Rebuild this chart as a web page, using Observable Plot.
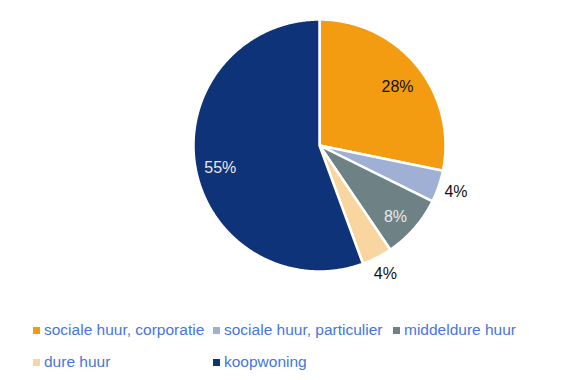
<!DOCTYPE html>
<html>
<head>
<meta charset="utf-8">
<script src="https://cdn.jsdelivr.net/npm/d3@7"></script>
<script src="https://cdn.jsdelivr.net/npm/@observablehq/plot@0.6"></script>
<style>
  html, body { margin: 0; padding: 0; background: #fff; }
  #chart { width: 565px; height: 380px; position: relative; }
  .legend { position: absolute; left: 33px; top: 321px; width: 540px; font-family: "Liberation Sans", Arial, sans-serif; font-size: 15.5px; color: #4676DC; }
  .legend .item { position: absolute; white-space: nowrap; display: flex; align-items: center; }
  .legend .sw { width: 7px; height: 7px; margin-right: 4px; display: inline-block; }
</style>
</head>
<body>
<div id="chart"></div>
<script>
const categories = ["sociale huur, corporatie", "sociale huur, particulier", "middeldure huur", "dure huur", "koopwoning"];
const values = [28.2, 4.1, 8.2, 3.9, 55.6];
const labels = ["28%", "4%", "8%", "4%", "55%"];
const colors = ["#F39C12", "#A0B0D4", "#6E8286", "#F9D69F", "#0F3379"];
const labelColors = ["#111111", "#111111", "#E8E8E8", "#111111", "#E8E8E8"];

const total = d3.sum(values);
const arcs = d3.pie().sort(null).value(d => d)(values);

function slicePolygon(a0, a1) {
  const pts = [[0, 0]];
  const n = Math.max(4, Math.ceil((a1 - a0) / 0.01));
  for (let i = 0; i <= n; i++) {
    const a = a0 + (a1 - a0) * i / n;
    pts.push([Math.sin(a), -Math.cos(a)]);
  }
  pts.push([0, 0]);
  return pts;
}

const features = arcs.map((a, i) => ({
  type: "Feature",
  properties: { cat: categories[i], color: colors[i] },
  geometry: { type: "Polygon", coordinates: [slicePolygon(a.startAngle, a.endAngle)] }
}));

const labelData = arcs.map((a, i) => {
  const mid = (a.startAngle + a.endAngle) / 2;
  const outside = values[i] / total < 0.05;
  const r = outside ? 1.145 : 0.8;
  return { x: Math.sin(mid) * r, y: -Math.cos(mid) * r, label: labels[i], color: labelColors[i], outside };
});

const W = 565, H = 300, R = 126, cx = 319, cy = 145;
const textOpts = { x: "x", y: "y", text: "label", fill: d => d.color, fontSize: 16, fontFamily: "Liberation Sans, Arial, sans-serif", clip: false };
const plot = Plot.plot({
  width: W,
  height: H,
  marginLeft: cx - R,
  marginRight: W - cx - R,
  marginTop: cy - R,
  marginBottom: H - cy - R,
  projection: { type: "identity", clip: false, domain: { type: "MultiPoint", coordinates: [[-1, -1], [1, 1]] } },
  marks: [
    Plot.geo(features, { fill: d => d.properties.color, stroke: "white", strokeWidth: 2.5, strokeLinejoin: "round" }),
    Plot.text(labelData.filter(d => !d.outside), { ...textOpts, dy: 5 }),
    Plot.text(labelData.filter(d => d.outside), { ...textOpts, dy: 0 })
  ]
});
plot.style.display = "block";
plot.style.overflow = "visible";
const chart = document.getElementById("chart");
chart.appendChild(plot);

const legend = document.createElement("div");
legend.className = "legend";
const colX = [0, 180, 360];
categories.forEach((c, i) => {
  const item = document.createElement("div");
  item.className = "item";
  item.style.left = colX[i % 3] + "px";
  item.style.top = (Math.floor(i / 3) * 32) + "px";
  item.innerHTML = `<span class="sw" style="background:${colors[i]}"></span><span>${c}</span>`;
  legend.appendChild(item);
});
chart.appendChild(legend);
</script>
</body>
</html>
